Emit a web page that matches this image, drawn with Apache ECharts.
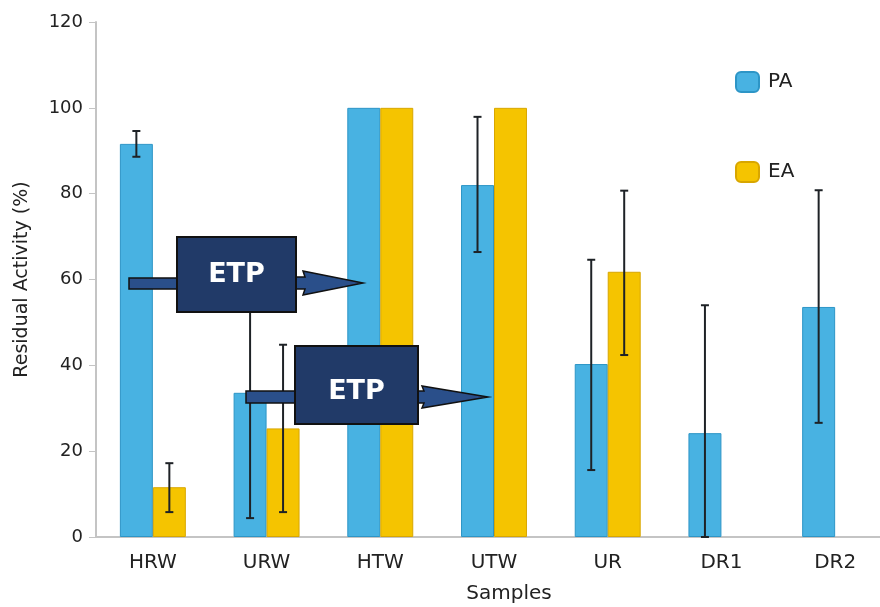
<!DOCTYPE html>
<html><head><meta charset="utf-8">
<script src="https://cdn.jsdelivr.net/npm/echarts@6/dist/echarts.min.js"></script>
<style>html,body{margin:0;padding:0;background:#fff}#c{width:880px;height:607px}</style>
</head><body><div id="c"></div>
<script>
const categories = ['HRW','URW','HTW','UTW','UR','DR1','DR2'];
const paValues = [91.6, 33.6, 100, 82, 40.3, 24.2, 53.6];
const eaValues = [11.6, 25.3, 100, 100, 61.8, null, null];
const paLow  = [88.6, 4.4, null, 66.4, 15.6, 0, 26.6];
const paHigh = [94.6, 62.8, null, 97.9, 64.6, 54, 80.8];
const eaLow  = [5.8, 5.8, null, null, 42.4, null, null];
const eaHigh = [17.2, 44.8, null, null, 80.7, null, null];
const yTicks = [0, 20, 40, 60, 80, 100, 120];

const errData = [];
categories.forEach((c, i) => {
  if (paLow[i] != null) errData.push([i, paLow[i], paHigh[i], -1]);
  if (eaLow[i] != null) errData.push([i, eaLow[i], eaHigh[i], 1]);
});

const FONT = '"DejaVu Sans", "Liberation Sans", Arial, sans-serif';
const chart = echarts.init(document.getElementById('c'));

function arrow(x0, yc, x1, tip, hw) {
  return [[x0, yc-6],[x1, yc-6],[x1-2, yc-hw],[tip, yc],[x1-2, yc+hw],[x1, yc+6],[x0, yc+6]];
}
const navy = '#213a68';
const shaft = '#2a4f8a';

chart.setOption({
  animation: false,
  backgroundColor: '#fff',
  grid: { left: 96, top: 22, right: -12, height: 515, outerBoundsMode: 'none', containLabel: false },
  legend: {
    orient: 'vertical', left: 735, top: 71, padding: 0, itemWidth: 23, itemHeight: 20, itemGap: 68,
    icon: 'roundRect',
    textStyle: { fontFamily: FONT, fontSize: 20, color: '#222', padding: [0,0,0,4] },
    data: ['PA', 'EA']
  },
  xAxis: {
    type: 'category', data: categories,
    name: 'Samples', nameLocation: 'middle', nameGap: 47,
    nameTextStyle: { fontFamily: FONT, fontSize: 20, color: '#222', padding: [0,0,0,30] },
    axisLine: { lineStyle: { color: '#c4c4c4', width: 2 } },
    axisTick: { length: 5, lineStyle: { color: '#c4c4c4' } },
    axisLabel: { fontFamily: FONT, fontSize: 20, color: '#222', margin: 16 }
  },
  yAxis: {
    type: 'value', min: 0, max: 120, interval: 20,
    name: 'Residual Activity (%)', nameLocation: 'middle', nameGap: 64,
    nameTextStyle: { fontFamily: FONT, fontSize: 19, color: '#222' },
    axisLine: { show: true, lineStyle: { color: '#c4c4c4', width: 2 } },
    axisTick: { show: true, length: 7, lineStyle: { color: '#c4c4c4' } },
    axisLabel: { fontFamily: FONT, fontSize: 18, color: '#222', margin: 13,
      formatter: v => yTicks.includes(v) ? String(v) : '' },
    splitLine: { show: false }
  },
  series: [
    { name: 'PA', type: 'bar', data: paValues, barGap: '0%', barCategoryGap: '42%',
      itemStyle: { color: '#48b2e2', borderColor: '#2d95c6', borderWidth: 1 } },
    { name: 'EA', type: 'bar', data: eaValues,
      itemStyle: { color: '#f5c400', borderColor: '#d8a600', borderWidth: 1 } },
    { name: 'err', type: 'custom', data: errData, z: 10,
      renderItem: function (params, api) {
        const band = api.size([1, 0])[0];
        const x = api.coord([api.value(0), 0])[0] + api.value(3) * band * 0.145;
        const yl = api.coord([api.value(0), api.value(1)])[1];
        const yh = api.coord([api.value(0), api.value(2)])[1];
        const st = { stroke: '#1e2226', lineWidth: 2 };
        return { type: 'group', children: [
          { type: 'line', shape: { x1: x, y1: yl, x2: x, y2: yh }, style: st },
          { type: 'line', shape: { x1: x-4, y1: yl, x2: x+4, y2: yl }, style: st },
          { type: 'line', shape: { x1: x-4, y1: yh, x2: x+4, y2: yh }, style: st }
        ]};
      }
    }
  ],
  graphic: [
    { type: 'rect', z: 100, shape: { x: 129, y: 278, width: 50, height: 11 }, style: { fill: shaft, stroke: '#111', lineWidth: 1.5 } },
    { type: 'polygon', z: 100, shape: { points: arrow(294, 283, 305, 363, 12) }, style: { fill: shaft, stroke: '#111', lineWidth: 1.5 } },
    { type: 'rect', z: 101, shape: { x: 177, y: 237, width: 119, height: 75 }, style: { fill: navy, stroke: '#111', lineWidth: 2 } },
    { type: 'text', z: 102, style: { x: 236.5, y: 275, text: 'ETP', fill: '#fff', font: 'bold 27px "DejaVu Sans", sans-serif', textAlign: 'center', textVerticalAlign: 'middle' } },
    { type: 'rect', z: 100, shape: { x: 246, y: 391, width: 51, height: 12 }, style: { fill: shaft, stroke: '#111', lineWidth: 1.5 } },
    { type: 'polygon', z: 100, shape: { points: arrow(416, 397, 424, 488, 11) }, style: { fill: shaft, stroke: '#111', lineWidth: 1.5 } },
    { type: 'rect', z: 101, shape: { x: 295, y: 346, width: 123, height: 78 }, style: { fill: navy, stroke: '#111', lineWidth: 2 } },
    { type: 'text', z: 102, style: { x: 356.5, y: 392, text: 'ETP', fill: '#fff', font: 'bold 27px "DejaVu Sans", sans-serif', textAlign: 'center', textVerticalAlign: 'middle' } }
  ]
});
</script></body></html>
